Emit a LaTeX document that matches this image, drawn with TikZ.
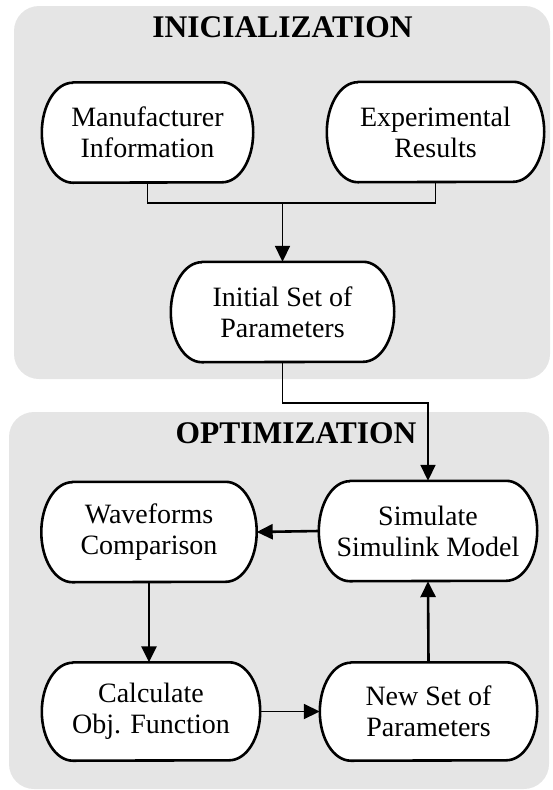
\documentclass[tikz,border=0pt]{standalone}
\usepackage{fontspec}
\setmainfont{Liberation Serif}
\usetikzlibrary{arrows.meta,calc}
\pgfdeclarelayer{bg}
\pgfdeclarelayer{mid}
\pgfsetlayers{bg,mid,main}
\tikzset{
  panel/.style={fill=black!10, draw=none, rounded corners=25pt},
  termnode/.style={shape=rectangle, draw=none, inner sep=0pt, minimum height=#1, align=center,
    font=\fontsize{28}{31}\selectfont},
  termnode/.default=100pt,
  boxline/.style={draw=black, fill=white, line width=2.6pt, line join=round},
  conn/.style={draw=black, line width=1.8pt},
  thickconn/.style={draw=black, line width=2.6pt},
  tip/.style={-{Triangle[length=16pt,width=15pt]}},
  title/.style={font=\fontsize{31.5}{36}\selectfont\bfseries, anchor=base, inner sep=0pt}
}
\newcommand{\termshape}[2]{%
  \begin{pgfonlayer}{mid}
  \path[boxline] ($(#1.north west)+(#2,0pt)$) -- ($(#1.north east)+(-#2,0pt)$)
    arc[start angle=90, end angle=-90, x radius=#2, y radius=0.5*\pgfkeysvalueof{/tmp/h}]
    -- ($(#1.south west)+(#2,0pt)$)
    arc[start angle=270, end angle=90, x radius=#2, y radius=0.5*\pgfkeysvalueof{/tmp/h}]
    -- cycle;
  \end{pgfonlayer}}
\pgfkeyssetvalue{/tmp/h}{100pt}
\begin{document}
\begin{tikzpicture}[x=1pt, y=-1pt]
\useasboundingbox (0,0) rectangle (552,790);
\begin{pgfonlayer}{bg}
  \path[panel] (14,6) rectangle (550,379);
  \path[panel] (9,412) rectangle (549,789);
\end{pgfonlayer}

\node[title] (t1) at (282.5,37) {INICIALIZATION};
\node[title] (t2) at (296,443) {OPTIMIZATION};

\node[termnode, minimum width=211pt] (man) at (147.5,132.5) {Manufacturer\\Information};
\node[termnode, minimum width=217pt] (exp) at (435.5,132) {Experimental\\Results};
\node[termnode, minimum width=223pt] (init) at (282.5,312) {Initial Set of\\Parameters};
\node[termnode, minimum width=215pt] (wave) at (149,532) {Waveforms\\Comparison};
\node[termnode, minimum width=218pt] (sim) at (428,531) {Simulate\\Simulink Model};
\node[termnode=98pt, minimum width=218pt] (calc) at (151,711.5) {Calculate\\Obj. Function};
\node[termnode=98pt, minimum width=217pt] (newp) at (428.5,711.5) {New Set of\\Parameters};

\termshape{man}{31pt}
\termshape{exp}{31pt}
\termshape{init}{31pt}
\termshape{wave}{31pt}
\termshape{sim}{31pt}
\pgfkeyssetvalue{/tmp/h}{98pt}
\termshape{calc}{31pt}
\termshape{newp}{31pt}

\coordinate (j) at (282.5,203);
\coordinate (k) at (282.5,403);

\begin{pgfonlayer}{bg}
\draw[conn] (man.south) |- (j) -| (exp.south);
\end{pgfonlayer}
\draw[conn, tip] (j) -- (init.north);
\draw[conn, tip] (init.south) -- (k) -| (sim.north);

\draw[thickconn, tip] (sim.west) -- (wave.east);
\draw[thickconn, tip] (wave.south) -- (wave.south |- calc.north);
\draw[conn, tip] (calc.east) -- (newp.west);
\draw[thickconn, tip] (newp.north) -- (sim.south);
\end{tikzpicture}
\end{document}
